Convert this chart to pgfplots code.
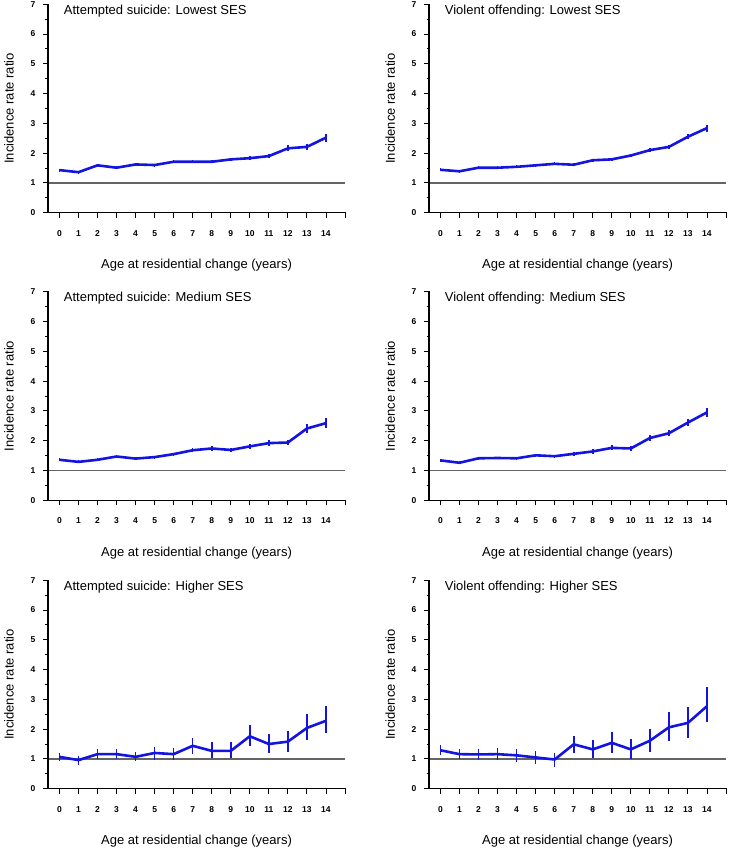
\documentclass[border=0pt]{standalone}
\usepackage{fontspec}
\setmainfont{Liberation Sans}
\usepackage{pgfplots}
\usepackage{pgfplotstable}
\pgfplotsset{compat=1.18}

\definecolor{irrblue}{RGB}{20,20,225}
\definecolor{refgrey}{RGB}{100,100,100}

% x = age, y = IRR, lo/hi = 95% CI
\pgfplotstableread{
x y lo hi
0 1.43 1.38 1.48
1 1.36 1.31 1.41
2 1.59 1.54 1.64
3 1.51 1.46 1.56
4 1.62 1.57 1.67
5 1.60 1.55 1.65
6 1.71 1.66 1.76
7 1.71 1.66 1.76
8 1.71 1.66 1.76
9 1.79 1.74 1.84
10 1.83 1.77 1.89
11 1.90 1.83 1.97
12 2.16 2.06 2.26
13 2.21 2.11 2.31
14 2.52 2.39 2.65
}\suiLow
\pgfplotstableread{
x y lo hi
0 1.44 1.39 1.49
1 1.39 1.34 1.44
2 1.51 1.46 1.56
3 1.51 1.46 1.56
4 1.54 1.49 1.59
5 1.59 1.54 1.64
6 1.64 1.59 1.69
7 1.61 1.56 1.66
8 1.76 1.71 1.81
9 1.79 1.74 1.84
10 1.92 1.86 1.98
11 2.10 2.03 2.17
12 2.21 2.14 2.28
13 2.55 2.46 2.64
14 2.84 2.72 2.96
}\vioLow
\pgfplotstableread{
x y lo hi
0 1.36 1.31 1.41
1 1.29 1.24 1.34
2 1.36 1.31 1.41
3 1.47 1.42 1.52
4 1.40 1.35 1.45
5 1.45 1.40 1.50
6 1.55 1.50 1.60
7 1.68 1.61 1.75
8 1.74 1.67 1.81
9 1.69 1.62 1.76
10 1.81 1.73 1.89
11 1.92 1.83 2.01
12 1.94 1.84 2.04
13 2.41 2.27 2.55
14 2.59 2.43 2.75
}\suiMed
\pgfplotstableread{
x y lo hi
0 1.34 1.29 1.39
1 1.26 1.21 1.31
2 1.41 1.36 1.46
3 1.42 1.37 1.47
4 1.41 1.36 1.46
5 1.51 1.46 1.56
6 1.48 1.43 1.53
7 1.56 1.50 1.62
8 1.64 1.57 1.71
9 1.76 1.68 1.84
10 1.74 1.66 1.82
11 2.09 1.99 2.19
12 2.25 2.15 2.35
13 2.61 2.49 2.73
14 2.95 2.80 3.10
}\vioMed
\pgfplotstableread{
x y lo hi
0 1.07 0.93 1.21
1 0.96 0.80 1.10
2 1.16 0.99 1.32
3 1.16 0.99 1.33
4 1.07 0.92 1.22
5 1.20 0.98 1.41
6 1.16 0.96 1.38
7 1.44 1.15 1.71
8 1.27 1.02 1.58
9 1.27 1.02 1.57
10 1.76 1.43 2.14
11 1.50 1.19 1.83
12 1.58 1.24 1.95
13 2.04 1.63 2.50
14 2.28 1.86 2.77
}\suiHigh
\pgfplotstableread{
x y lo hi
0 1.29 1.13 1.46
1 1.16 1.01 1.32
2 1.15 0.96 1.32
3 1.16 0.96 1.35
4 1.12 0.91 1.32
5 1.05 0.83 1.26
6 0.98 0.74 1.21
7 1.49 1.19 1.78
8 1.32 1.02 1.63
9 1.54 1.21 1.92
10 1.32 1.00 1.67
11 1.61 1.23 1.99
12 2.06 1.61 2.56
13 2.21 1.71 2.73
14 2.77 2.23 3.40
}\vioHigh

\pgfplotsset{
  irrpanel/.style={
    scale only axis,
    width=297pt, height=208.5pt,
    anchor=south west,
    xmin=-0.6, xmax=15, ymin=0, ymax=7,
    axis lines*=left,
    axis line style={black, line width=1.3pt},
    xtick={0,...,15},
    xticklabels={0,1,2,3,4,5,6,7,8,9,10,11,12,13,14,},
    ytick={0,...,7},
    minor ytick={0.5,1.5,...,6.5},
    tick align=outside,
    major tick length=5pt, minor tick length=2.5pt,
    every tick/.style={black, line width=0.9pt},
    x tick label style={font=\fontsize{8.5}{10}\selectfont\bfseries, yshift=-9pt},
    y tick label style={font=\fontsize{8.5}{10}\selectfont\bfseries, xshift=-4pt},
    /pgf/number format/assume math mode=true,
    xlabel={Age at residential change (years)},
    ylabel={Incidence rate ratio},
    label style={font=\fontsize{13}{15}\selectfont},
    xlabel style={yshift=-16pt},
    ylabel style={yshift=10pt},
    clip mode=individual,
  },
  irrline/.style={irrblue, line width=2.6pt, line join=round,
    error bars/.cd, y dir=both, y explicit, error mark=none,
    error bar style={irrblue, line width=1.6pt}},
}

\newcommand{\panel}[4]{%
  \begin{axis}[irrpanel, at={#1}]
    \addplot[refgrey, line width=1.8pt] coordinates {(-0.6,1) (15,1)};
    \addplot[irrline] table[x=x, y=y,
      y error plus expr=\thisrow{hi}-\thisrow{y},
      y error minus expr=\thisrow{y}-\thisrow{lo}] {#2};
    % frame and ticks, drawn again so they surely show
    \draw[black, line width=1.3pt, line cap=rect]
      (rel axis cs:0,1) -- (rel axis cs:0,0) -- (rel axis cs:1,0);
    \pgfplotsinvokeforeach{0,...,15}{%
      \draw[black, line width=0.9pt] (axis cs:##1,0) -- ++(0pt,-5pt);}
    \pgfplotsinvokeforeach{0,...,7}{%
      \draw[black, line width=0.9pt] (axis cs:-0.6,##1) -- ++(-5pt,0pt);}
    \pgfplotsinvokeforeach{0.5,1.5,2.5,3.5,4.5,5.5,6.5}{%
      \draw[black, line width=0.8pt] (axis cs:-0.6,##1) -- ++(-2.5pt,0pt);}
    \node[anchor=west, font=\fontsize{13}{15}\selectfont]
      at (axis cs:0.05,6.78) {#3: #4 SES};
  \end{axis}}

\begin{document}
\begin{tikzpicture}
  \useasboundingbox (0pt,0pt) rectangle (729pt,851pt);
  \panel{(48pt,638.3pt)}{\suiLow}{Attempted suicide}{Lowest}
  \panel{(429pt,638.3pt)}{\vioLow}{Violent offending}{Lowest}
  \panel{(48pt,350.7pt)}{\suiMed}{Attempted suicide}{Medium}
  \panel{(429pt,350.7pt)}{\vioMed}{Violent offending}{Medium}
  \panel{(48pt,62.3pt)}{\suiHigh}{Attempted suicide}{Higher}
  \panel{(429pt,62.3pt)}{\vioHigh}{Violent offending}{Higher}
\end{tikzpicture}
\end{document}
